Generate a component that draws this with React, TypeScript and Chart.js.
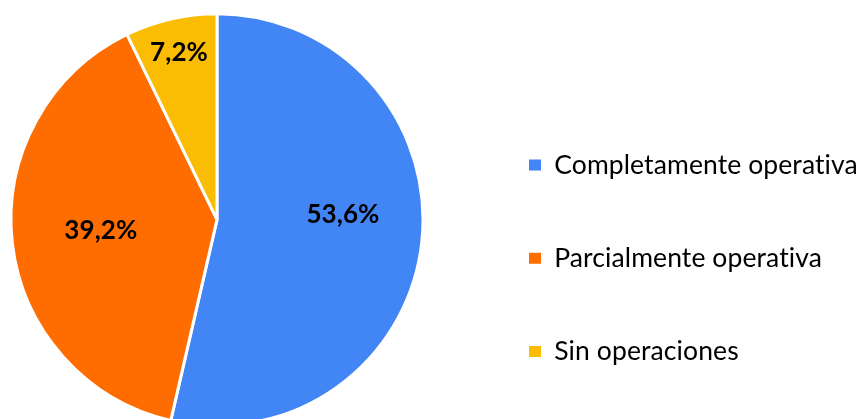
import React, { useEffect, useRef } from 'react';
import { Chart, registerables } from 'chart.js';

Chart.register(...registerables);

// ---- data ----
const categories = ['Completamente operativa', 'Parcialmente operativa', 'Sin operaciones'];
const shares = [53.6, 39.2, 7.2];
const sliceColors = ['#4285F4', '#FF6D01', '#FBBC04'];

// ---- style / layout ----
const FONT = 'Lato';
const LEGEND_SIZE = 26.5;
const LABEL_SIZE = 26;
const LEGEND_PAD = 66.7;
const BOX_W = 12;
const BOX_H = 11;
const LETTER_SPACING = '0.1px';
const CANVAS_SHIFT = 30; // canvas is moved left so the pie can sit near the page edge
const PAD_LEFT = 1.7;
const PAD_TOP = 12.2;
const LEGEND_LEFT = 492.3;
const BOTTOM_SPACER = 77.2;
const CANVAS_H = 505;
const PAD_BOTTOM = 0.6;
const LABEL_RADIUS = [0.612, 0.566, 0.83];
const LABEL_ANGLE_SHIFT = [-8.84, 1.27, 0.12];

const fmt = (v: number) => v.toFixed(1).replace('.', ',') + '%';

const noLigatures = {
  id: 'noLigatures',
  beforeDraw(chart: any) {
    (chart.ctx as any).letterSpacing = LETTER_SPACING;
  },
};

const sliceLabels = {
  id: 'sliceLabels',
  afterDatasetsDraw(chart: any, _args: any, opts: any) {
    const ctx = chart.ctx;
    const meta = chart.getDatasetMeta(0);
    const data = chart.data.datasets[0].data as number[];
    ctx.save();
    ctx.font = `bold ${opts.size}px ${opts.family}`;
    ctx.fillStyle = opts.color;
    ctx.textAlign = 'center';
    ctx.textBaseline = 'middle';
    meta.data.forEach((arc: any, i: number) => {
      const p = arc.getProps(['x', 'y', 'startAngle', 'endAngle', 'outerRadius'], true);
      const a = (p.startAngle + p.endAngle) / 2 + ((opts.angleShift[i] || 0) * Math.PI) / 180;
      const r = p.outerRadius * opts.radius[i];
      ctx.fillText(fmt(data[i]), p.x + Math.cos(a) * r, p.y + Math.sin(a) * r);
    });
    ctx.restore();
  },
};

export default function App() {
  const ref = useRef<HTMLCanvasElement | null>(null);

  useEffect(() => {
    const canvas = ref.current;
    if (!canvas) return;
    const m = document.createElement('canvas').getContext('2d')!;
    m.font = `${LEGEND_SIZE}px ${FONT}`;
    const tw = Math.max(...categories.map((c) => m.measureText(c).width));
    const legendW = LEGEND_PAD + BOX_W + LEGEND_SIZE / 2 + tw + 10;
    const W = Math.ceil(LEGEND_LEFT + legendW);
    const padRight = W - LEGEND_LEFT - legendW;
    canvas.width = W;
    canvas.height = CANVAS_H;
    canvas.style.width = W + 'px';
    canvas.style.height = CANVAS_H + 'px';

    const baseGen = (Chart as any).overrides.doughnut.plugins.legend.labels.generateLabels;

    const chart = new Chart(canvas, {
      type: 'pie',
      data: {
        labels: categories,
        datasets: [
          {
            data: shares,
            backgroundColor: sliceColors,
            borderColor: '#ffffff',
            borderWidth: 3,
            hoverOffset: 0,
          },
        ],
      },
      options: {
        responsive: false,
        animation: false,
        events: [],
        layout: {
          padding: { left: PAD_LEFT, top: PAD_TOP, right: padRight, bottom: PAD_BOTTOM },
        },
        plugins: {
          tooltip: { enabled: false },
          title: {
            display: true,
            text: '',
            position: 'bottom',
            fullSize: false,
            padding: 0,
            font: { size: 10, lineHeight: BOTTOM_SPACER / 10 },
          },
          legend: {
            display: true,
            position: 'right',
            align: 'center',
            labels: {
              color: '#000000',
              font: { family: FONT, size: LEGEND_SIZE },
              boxWidth: BOX_W,
              boxHeight: BOX_H,
              padding: LEGEND_PAD,
              generateLabels: (c: any) =>
                baseGen(c).map((l: any) => ({ ...l, lineWidth: 0, strokeStyle: 'rgba(0,0,0,0)' })),
            },
          },
          sliceLabels: {
            size: LABEL_SIZE,
            family: FONT,
            color: '#000000',
            radius: LABEL_RADIUS,
            angleShift: LABEL_ANGLE_SHIFT,
          },
        } as any,
      },
      plugins: [noLigatures as any, sliceLabels as any],
    });
    return () => chart.destroy();
  }, []);

  return (
    <div
      style={{
        position: 'fixed',
        left: 0,
        top: 0,
        width: 858,
        height: 419,
        overflow: 'hidden',
        background: '#ffffff',
      }}
    >
      <canvas ref={ref} style={{ position: 'absolute', left: -CANVAS_SHIFT, top: 0 }} />
    </div>
  );
}
